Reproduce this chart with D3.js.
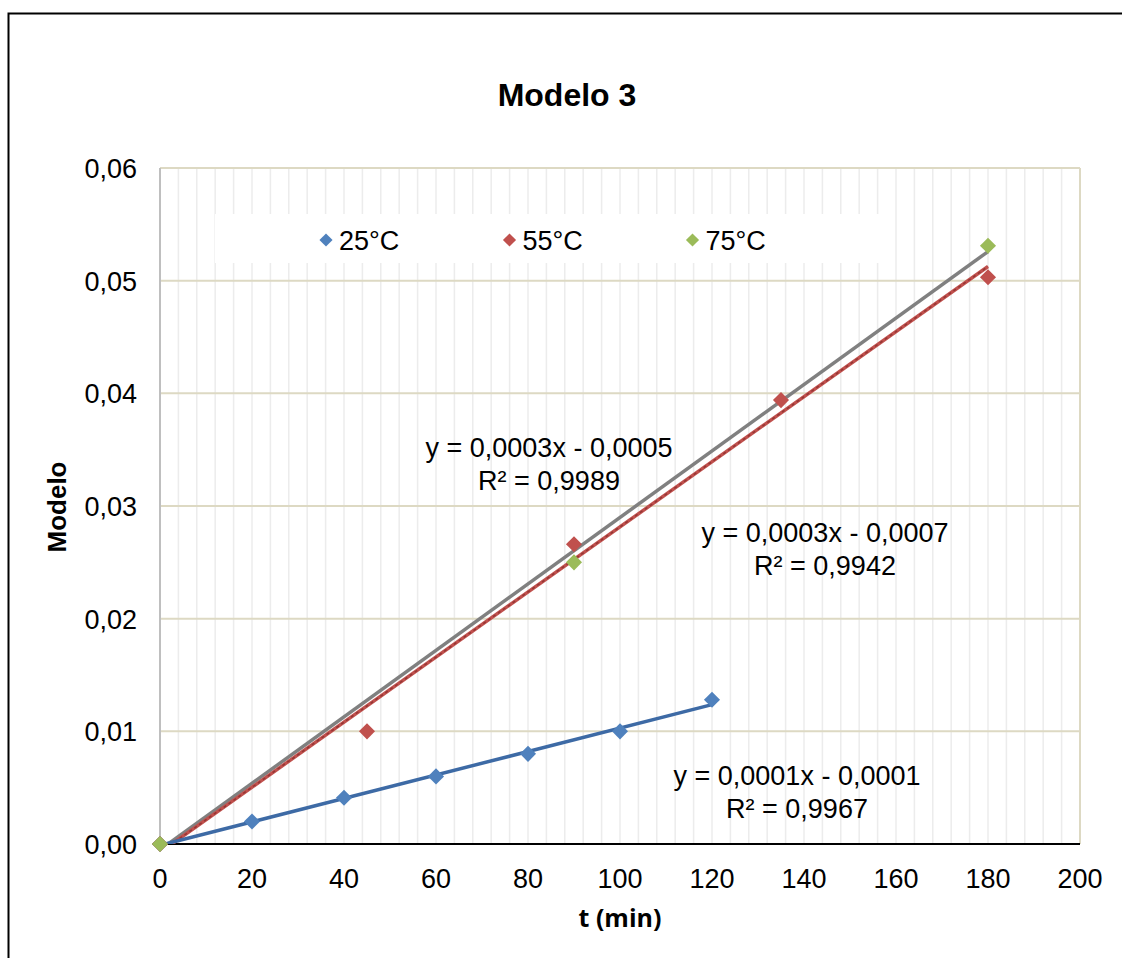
<!DOCTYPE html>
<html>
<head>
<meta charset="utf-8">
<script src="https://cdn.jsdelivr.net/npm/d3@7"></script>
<style>
	body { margin: 0; background: #fff; }
	svg text { font-family: "Liberation Sans", Arial, sans-serif; fill: #000; }
</style>
</head>
<body>
<div id="graphic"></div>
<script>
// series data
const seriesNames = ['25°C', '55°C', '75°C'];
const seriesColours = ['#4f81bd', '#c0504d', '#9bbb59'];
const t25 = [0, 20, 40, 60, 80, 100, 120];
const v25 = [0, 0.0020, 0.0041, 0.0060, 0.0080, 0.0100, 0.0128];
const t55 = [0, 45, 90, 135, 180];
const v55 = [0, 0.0100, 0.0266, 0.0394, 0.0503];
const t75 = [0, 90, 180];
const v75 = [0, 0.0250, 0.0531];
const trendLabels = [
	['y = 0,0001x - 0,0001', 'R² = 0,9967'],
	['y = 0,0003x - 0,0007', 'R² = 0,9942'],
	['y = 0,0003x - 0,0005', 'R² = 0,9989']
];
const xTicks = d3.range(0, 201, 20);
const yTicks = [0, 0.01, 0.02, 0.03, 0.04, 0.05, 0.06];

const width = 1122, height = 958;
const margin = { left: 160, right: 42, top: 168, bottom: 114 };

let graphic = d3.select('#graphic');
let svg = graphic.append('svg')
	.attr('width', width)
	.attr('height', height);

// outer frame (only top and left visible)
svg.append('rect')
	.attr('x', 8.5).attr('y', 13.5)
	.attr('width', 1300).attr('height', 1100)
	.attr('fill', 'none')
	.attr('stroke', '#000')
	.attr('stroke-width', 2);

const x = d3.scaleLinear().domain([0, 200]).range([margin.left, width - margin.right]);
const y = d3.scaleLinear().domain([0, 0.06]).range([height - margin.bottom, margin.top]);

let series = [
	{ name: seriesNames[0], t: t25, v: v25 },
	{ name: seriesNames[1], t: t55, v: v55 },
	{ name: seriesNames[2], t: t75, v: v75 }
].map((s, i) => ({ ...s, colour: seriesColours[i], points: s.t.map((d, j) => [d, s.v[j]]) }));

// least squares fit for each trendline
function fit(points) {
	let mx = d3.mean(points, d => d[0]), my = d3.mean(points, d => d[1]);
	let sxy = d3.sum(points, d => (d[0] - mx) * (d[1] - my));
	let sxx = d3.sum(points, d => (d[0] - mx) ** 2);
	let slope = sxy / sxx;
	return { slope: slope, intercept: my - slope * mx };
}

// minor vertical gridlines every 4 min
svg.append('g')
	.selectAll('line')
	.data(d3.range(4, 200, 4))
	.join('line')
	.attr('x1', d => x(d)).attr('x2', d => x(d))
	.attr('y1', y(0.06)).attr('y2', y(0))
	.attr('stroke', '#ececec')
	.attr('stroke-width', 1.5);

// horizontal gridlines
svg.append('g')
	.selectAll('line')
	.data(yTicks.slice(1))
	.join('line')
	.attr('x1', x(0)).attr('x2', x(200))
	.attr('y1', d => y(d)).attr('y2', d => y(d))
	.attr('stroke', '#ddd9c3')
	.attr('stroke-width', 2);

// right border
svg.append('line')
	.attr('x1', x(200)).attr('x2', x(200))
	.attr('y1', y(0.06)).attr('y2', y(0))
	.attr('stroke', '#ddd9c3')
	.attr('stroke-width', 2);

// legend box covers gridlines
svg.append('rect')
	.attr('x', 215).attr('y', 214)
	.attr('width', 665).attr('height', 49)
	.attr('fill', '#fff');

// left axis
svg.append('line')
	.attr('x1', x(0)).attr('x2', x(0))
	.attr('y1', y(0.06)).attr('y2', y(0))
	.attr('stroke', '#bfbfbf')
	.attr('stroke-width', 2);

// bottom axis
svg.append('line')
	.attr('x1', x(0)).attr('x2', x(200))
	.attr('y1', y(0)).attr('y2', y(0))
	.attr('stroke', '#000')
	.attr('stroke-width', 2);

// tick labels
svg.append('g')
	.selectAll('text')
	.data(xTicks)
	.join('text')
	.attr('x', d => x(d))
	.attr('y', y(0) + 44)
	.attr('text-anchor', 'middle')
	.attr('font-size', 27)
	.text(d => d);

svg.append('g')
	.selectAll('text')
	.data(yTicks)
	.join('text')
	.attr('x', x(0) - 23)
	.attr('y', d => y(d) + 10)
	.attr('text-anchor', 'end')
	.attr('font-size', 27)
	.text(d => d3.format('.2f')(d).replace('.', ','));

// clip for trendlines
svg.append('clipPath').attr('id', 'plot-clip')
	.append('rect')
	.attr('x', x(0)).attr('y', y(0.06))
	.attr('width', x(200) - x(0)).attr('height', y(0) - y(0.06));

let trendG = svg.append('g').attr('clip-path', 'url(#plot-clip)');
let trendColours = ['#3d6aa5', '#c0504d', '#808080'];
let drawOrder = [2, 1, 0];
drawOrder.forEach(i => {
	let s = series[i];
	let f = fit(s.points);
	let x1 = d3.max(s.t);
	trendG.append('line')
		.attr('x1', x(0)).attr('y1', y(f.intercept))
		.attr('x2', x(x1)).attr('y2', y(f.intercept + f.slope * x1))
		.attr('stroke', trendColours[i])
		.attr('stroke-width', 3.5);
	if (i == 1) {
		trendG.append('line')
			.attr('x1', x(0)).attr('y1', y(f.intercept))
			.attr('x2', x(x1)).attr('y2', y(f.intercept + f.slope * x1))
			.attr('stroke', '#943634')
			.attr('stroke-width', 1.5)
			.attr('stroke-dasharray', '3,3');
	}
});

// markers
const diamond = d3.symbol().type(d3.symbolDiamond2);
series.forEach(s => {
	svg.append('g')
		.selectAll('path')
		.data(s.points)
		.join('path')
		.attr('transform', d => `translate(${x(d[0])},${y(d[1])})`)
		.attr('d', diamond.size(165)())
		.attr('fill', s.colour);
});

// legend
let legendX = [326, 509.5, 692.5];
series.forEach((s, i) => {
	svg.append('path')
		.attr('transform', `translate(${legendX[i]},240)`)
		.attr('d', diamond.size(110)())
		.attr('fill', s.colour);
	svg.append('text')
		.attr('x', legendX[i] + 13)
		.attr('y', 249.5)
		.attr('font-size', 27)
		.text(s.name);
});

// trendline equations
let labelPos = [[797, 785], [825, 542], [549, 457]];
trendLabels.forEach((lines, i) => {
	lines.forEach((t, j) => {
		svg.append('text')
			.attr('x', labelPos[i][0])
			.attr('y', labelPos[i][1] + j * 33)
			.attr('text-anchor', 'middle')
			.attr('font-size', 27)
			.text(t);
	});
});

// titles
svg.append('text')
	.attr('x', 567).attr('y', 106)
	.attr('text-anchor', 'middle')
	.attr('font-size', 32)
	.attr('font-weight', 'bold')
	.text('Modelo 3');

svg.append('text')
	.attr('transform', 'translate(66,507) rotate(-90)')
	.attr('text-anchor', 'middle')
	.attr('font-size', 26)
	.attr('font-weight', 'bold')
	.text('Modelo');

svg.append('text')
	.attr('x', 620).attr('y', 927)
	.attr('text-anchor', 'middle')
	.attr('font-size', 25)
	.attr('font-weight', 'bold')
	.style('font-family', '"Open Sans", sans-serif')
	.text('t (min)');
</script>
</body>
</html>
